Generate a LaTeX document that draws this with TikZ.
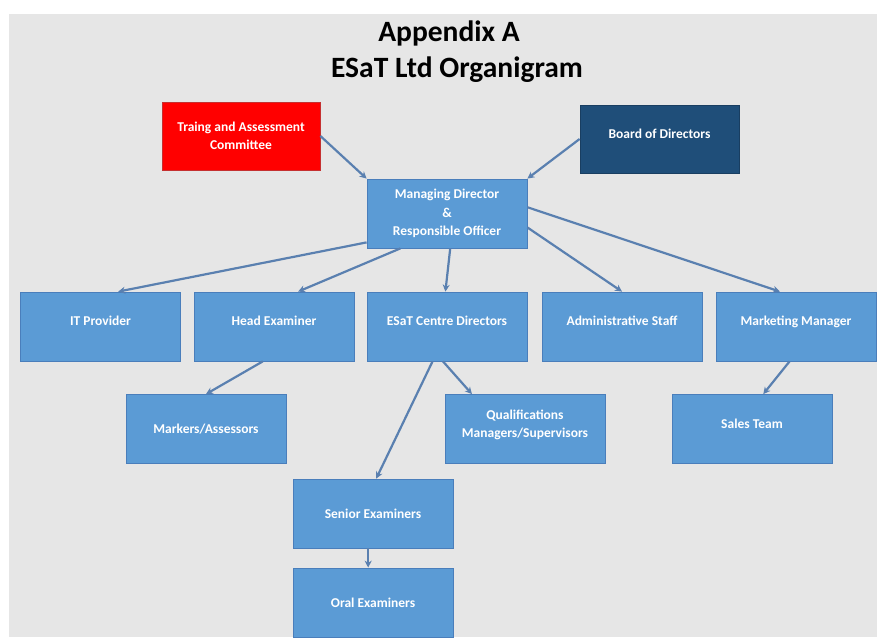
\documentclass[tikz,border=0pt]{standalone}
\usepackage{fontspec}
\setmainfont{Carlito}
\usetikzlibrary{calc,arrows.meta}
\definecolor{bgc}{HTML}{E6E6E6}
\definecolor{boxc}{HTML}{5B9BD5}
\definecolor{boxb}{HTML}{4A7EBB}
\definecolor{redc}{HTML}{FF0000}
\definecolor{redb}{HTML}{C53030}
\definecolor{navyc}{HTML}{1F4E79}
\definecolor{linec}{HTML}{5A80B0}
\tikzset{
  orgbox/.style={draw=boxb, fill=boxc, line width=0.8pt, minimum width=160pt, minimum height=69pt,
    inner sep=0pt, text=white, font=\fontsize{13.5}{18.5}\selectfont\bfseries, align=center},
  hi/.style={text depth=11pt},
  redbox/.style={orgbox, fill=redc, draw=redb, minimum width=158pt, minimum height=68pt},
  navybox/.style={orgbox, fill=navyc, draw=navyc!80!black, minimum width=159pt, minimum height=68pt},
  conn/.style={draw=linec, line width=2.2pt, -{Stealth[length=7pt,width=7pt]}},
  titletext/.style={font=\fontsize{29.5}{32}\selectfont\bfseries, text=black, inner sep=0pt}
}
\begin{document}
\begin{tikzpicture}[x=1pt,y=-1pt]
\useasboundingbox (0,0) rectangle (877,637);
\clip (0,0) rectangle (877,637);
\fill[white] (0,0) rectangle (877,637);
\fill[bgc] (9,14) rectangle (877,637);

\node[titletext] (t1) at (449,33) {Appendix A};
\node[titletext] (t2) at (457,70) {ESaT Ltd Organigram};

\node[redbox] (tac) at (241,136) {Traing and Assessment\\Committee};
\node[navybox, hi] (bod) at (659.5,139) {Board of Directors};
\node[orgbox] (md) at (447,213.5) {Managing Director\\\&\\Responsible Officer};

\node[orgbox, hi] (it) at (100.5,326.5) {IT Provider};
\node[orgbox, hi] (he) at (274,326.5) {Head Examiner};
\node[orgbox, hi] (cd) at (447,326.5) {ESaT Centre Directors};
\node[orgbox, hi] (as) at (622,326.5) {Administrative Staff};
\node[orgbox, hi] (mm) at (796,326.5) {Marketing Manager};

\node[orgbox] (ma) at (206,429) {Markers/Assessors};
\node[orgbox, hi] (qm) at (525,429) {Qualifications\\Managers/Supervisors};
\node[orgbox, hi] (st) at (752,429) {Sales Team};

\node[orgbox] (se) at (373,513.5) {Senior Examiners};
\node[orgbox] (oe) at (373,602.5) {Oral Examiners};

\draw[conn] (tac.east) -- (md.north west);
\draw[conn] (bod.west) -- (md.north east);

\draw[conn] ($(md.south west)+(0,-6)$) -- ($(it.north west)!0.61!(it.north east)$);
\draw[conn] ($(md.south west)!0.21!(md.south east)$) -- ($(he.north west)!0.65!(he.north east)$);
\draw[conn] ($(md.south west)!0.52!(md.south east)$) -- ($(cd.north west)!0.49!(cd.north east)$);
\draw[conn] ($(md.north east)!0.70!(md.south east)$) -- ($(as.north west)!0.5!(as.north east)$);
\draw[conn] ($(md.north east)!0.41!(md.south east)$) -- ($(mm.north west)!0.40!(mm.north east)$);

\draw[conn] ($(he.south west)!0.43!(he.south east)$) -- ($(ma.north west)!0.5!(ma.north east)$);
\draw[conn] ($(cd.south west)!0.475!(cd.south east)$) -- ($(qm.north west)!0.17!(qm.north east)$);
\draw[conn] ($(cd.south west)!0.41!(cd.south east)$) -- ($(se.north west)!0.52!(se.north east)$);
\draw[conn] ($(mm.south west)!0.46!(mm.south east)$) -- ($(st.north west)!0.57!(st.north east)$);
\draw[conn] ($(se.south west)!0.47!(se.south east)$) -- ($(oe.north west)!0.47!(oe.north east)$);
\end{tikzpicture}
\end{document}
